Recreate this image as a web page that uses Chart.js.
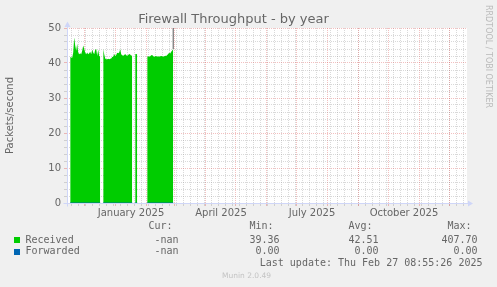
<!DOCTYPE html>
<html>
<head>
<meta charset="utf-8">
<title>Firewall Throughput - by year</title>
<script src="https://cdn.jsdelivr.net/npm/chart.js@4.4.1/dist/chart.umd.min.js"></script>
<style>
  body { margin: 0; background: #f0f0f0; }
  #wrap { position: relative; width: 497px; height: 287px; overflow: hidden; background: #f0f0f0; }
  #myChart { position: absolute; left: 0; top: 0; }
  .txt { position: absolute; white-space: pre; color: #666; font: 10px/12px "DejaVu Sans Mono", monospace; }
  .sw { position: absolute; left: 14px; width: 6px; height: 6px; }
  #rrd { position: absolute; left: 492.5px; top: 4.5px; transform-origin: 0 0; transform: rotate(90deg);
         font: 8px/10px "DejaVu Sans", sans-serif; color: #bbb; white-space: pre; }
  #munin { position: absolute; left: 222px; top: 271px; font: 7.5px/10px "DejaVu Sans", sans-serif; color: #c4c4c4; white-space: pre; }
</style>
</head>
<body>
<div id="wrap">
  <canvas id="myChart" width="497" height="287"></canvas>
  <div id="rrd">RRDTOOL / TOBI OETIKER</div>
  <div id="munin">Munin 2.0.49</div>
</div>
<script>
// daily samples, first one is 2024-11-16
var firstSample = Date.UTC(2024, 10, 16);
var received = [
  41.8, 41.6, 41.5, 43.0, 47.3, 45.0, 43.5, 45.5, 43.0, 42.5,
  42.8, 42.5, 43.5, 45.0, 44.0, 43.0, 42.5, 43.0, 42.5, 42.8,
  43.2, 42.5, 43.8, 43.0, 42.5, 43.8, 44.0, 42.0, 43.8, 42.0,
  41.8, null, null,
  44.0, 42.5, 41.3, 41.1, 41.1, 41.2, 41.1, 41.2, 41.3, 41.7,
  41.8, 42.6, 42.0, 42.3, 42.9, 42.8, 43.0, 43.9, 42.5, 42.2,
  42.1, 42.3, 42.6, 42.2, 42.1, 42.3, 42.6, 42.4, 42.1, 42.2,
  null, null,
  42.6, 42.6, 42.5,
  null, null, null, null, null, null, null, null, null,
  41.8, 41.9, 41.8, 41.9, 42.2, 42.3, 41.9, 41.8, 41.9, 42.0,
  41.8, 41.9, 41.8, 41.9, 42.0, 41.9, 41.8, 41.9, 42.1, 42.0,
  42.3, 42.6, 42.9, 42.7, 43.2, 43.6, 44.0
];
var forwarded = [
  0, 0, 0, 0, 0, 0, 0, 0, 0, 0,
  0, 0, 0, 0, 0, 0, 0, 0, 0, 0,
  0, 0, 0, 0, 0, 0, 0, 0, 0, 0,
  0, null, null,
  0, 0, 0, 0, 0, 0, 0, 0, 0, 0,
  0, 0, 0, 0, 0, 0, 0, 0, 0, 0,
  0, 0, 0, 0, 0, 0, 0, 0, 0, 0,
  null, null,
  0, 0, 0,
  null, null, null, null, null, null, null, null, null,
  0, 0, 0, 0, 0, 0, 0, 0, 0, 0,
  0, 0, 0, 0, 0, 0, 0, 0, 0, 0,
  0, 0, 0, 0, 0, 0, 0
];

var seriesNames = ['Received', 'Forwarded'];
var seriesColors = ['#00cc00', '#0066b3'];
var curValues = ['-nan', '-nan'];
var minValues = ['39.36', '0.00'];
var avgValues = ['42.51', '0.00'];
var maxValues = ['407.70', '0.00'];
var lastUpdate = 'Last update: Thu Feb 27 08:55:26 2025';

var tickLabels = ['January 2025', 'April 2025', 'July 2025', 'October 2025'];
var labelMonths = [[2025, 0], [2025, 3], [2025, 6], [2025, 9]];
var yTickLabels = [0, 10, 20, 30, 40, 50];

var GRID = 'rgba(143,143,143,0.34)';
var MGRID = 'rgba(222,79,79,0.36)';
var AXIS = '#cfd6f8';

// x axis in days from 2025-01-01, window of 400 days
var DAY = 86400000;
var jan1 = Date.UTC(2025, 0, 1);
var windowStart = -48.7;
var windowDays = 400;
function dayOf(y, m, d) { return (Date.UTC(y, m, d) - jan1) / DAY; }
var firstDay = (firstSample - jan1) / DAY;

var recPoints = received.map(function (v, i) { return {x: firstDay + i + 0.5, y: v}; });
var fwdPoints = forwarded.map(function (v, i) { return {x: firstDay + i + 0.5, y: v}; });
var lastIdx = received.length - 1;
var spikePoints = [
  {x: firstDay + lastIdx + 0.5, y: received[lastIdx]},
  {x: firstDay + lastIdx + 0.5, y: parseFloat(maxValues[0])}
];

var xTicks = [];
for (var d = dayOf(2024, 10, 18); d < windowStart + windowDays; d += 7) {
  xTicks.push({value: d, kind: 'minor', text: ''});
}
labelMonths.forEach(function (m, i) {
  xTicks.push({value: dayOf(m[0], m[1], 1) + 15.3, kind: 'label', text: tickLabels[i]});
});
for (var k = 0; k < 14; k++) {
  var md = dayOf(2024, 11 + k, 1);
  if (md > windowStart && md < windowStart + windowDays) xTicks.push({value: md, kind: 'major', text: ''});
}
var yTicks = [];
for (var v = 0; v <= 50; v += 2) yTicks.push(v);

var canvasBg = {
  id: 'canvasBg',
  beforeDraw: function (chart) {
    var a = chart.chartArea, c = chart.ctx;
    c.save();
    c.fillStyle = '#ffffff';
    c.fillRect(a.left, a.top, a.right - a.left, a.bottom - a.top);
    c.restore();
  }
};

var axisArrows = {
  id: 'axisArrows',
  afterDatasetsDraw: function (chart) {
    var a = chart.chartArea, c = chart.ctx;
    var x0 = Math.round(a.left) + 0.5, y0 = Math.round(a.bottom) + 0.5;
    c.save();
    c.strokeStyle = AXIS; c.fillStyle = AXIS; c.lineWidth = 1;
    c.beginPath();
    c.moveTo(x0 - 4, y0); c.lineTo(a.right + 2, y0);
    c.moveTo(x0, y0 + 3); c.lineTo(x0, a.top - 2);
    c.stroke();
    c.beginPath();
    c.moveTo(a.right + 1, y0 - 3); c.lineTo(a.right + 6, y0); c.lineTo(a.right + 1, y0 + 3);
    c.closePath(); c.fill();
    c.beginPath();
    c.moveTo(x0 - 3, a.top - 1); c.lineTo(x0, a.top - 6.5); c.lineTo(x0 + 3, a.top - 1);
    c.closePath(); c.fill();
    c.restore();
  }
};

const config = {
  type: 'line',
  data: {
    datasets: [
      {
        label: seriesNames[0],
        data: recPoints,
        backgroundColor: seriesColors[0],
        borderColor: 'rgba(0,0,0,0)',
        borderWidth: 1,
        fill: 'origin',
        pointRadius: 0,
        tension: 0,
        order: 2
      },
      {
        label: seriesNames[1],
        data: fwdPoints,
        borderColor: seriesColors[1],
        borderWidth: 1,
        fill: false,
        pointRadius: 0,
        order: 1
      },
      {
        label: 'spike',
        data: spikePoints,
        borderColor: '#555555',
        borderWidth: 1,
        fill: false,
        pointRadius: 0,
        order: 3
      }
    ]
  },
  options: {
    responsive: false,
    animation: false,
    devicePixelRatio: 1,
    layout: { padding: { left: 0, right: 30, top: 0, bottom: 64 } },
    plugins: {
      legend: { display: false },
      tooltip: { enabled: false },
      title: {
        display: true,
        text: 'Firewall Throughput - by year',
        color: '#666',
        font: { family: 'DejaVu Sans', size: 13, weight: 'normal' },
        padding: { top: 11.7, bottom: 0.7 }
      }
    },
    scales: {
      x: {
        type: 'linear',
        min: windowStart,
        max: windowStart + windowDays,
        afterBuildTicks: function (s) {
          s.ticks = xTicks.map(function (t) { return {value: t.value, kind: t.kind, text: t.text}; });
        },
        afterFit: function (s) { s.height = 20; },
        ticks: {
          autoSkip: false, maxRotation: 0, minRotation: 0, padding: 1,
          color: '#666', font: { family: 'DejaVu Sans', size: 10 },
          callback: function (value, index, ticks) { return ticks[index].text; }
        },
        grid: {
          color: function (ctx) {
            var t = ctx.tick;
            if (!t) return GRID;
            if (t.kind === 'major') return MGRID;
            if (t.kind === 'label') return 'rgba(0,0,0,0)';
            return GRID;
          },
          lineWidth: 1,
          tickLength: 3
        },
        border: { display: false, dash: [1, 1] }
      },
      y: {
        min: 0,
        max: 50,
        afterBuildTicks: function (s) {
          s.ticks = yTicks.map(function (v) { return {value: v}; });
        },
        afterFit: function (s) { s.width = 67; },
        ticks: {
          autoSkip: false, padding: 3,
          color: '#666', font: { family: 'DejaVu Sans', size: 10 },
          callback: function (value) { return yTickLabels.indexOf(value) >= 0 ? String(value) : ''; }
        },
        grid: {
          color: function (ctx) {
            return ctx.tick && ctx.tick.value % 10 === 0 ? MGRID : GRID;
          },
          lineWidth: 1,
          tickLength: 3
        },
        border: { display: false, dash: [1, 1] },
        title: {
          display: true,
          text: 'Packets/second',
          color: '#666',
          font: { family: 'DejaVu Sans', size: 10 },
          padding: { top: 4.5, bottom: 0 }
        }
      }
    }
  },
  plugins: [canvasBg, axisArrows]
};

var ctx = document.getElementById('myChart').getContext('2d');
var myChart = new Chart(ctx, config);

// legend table under the graph
var wrap = document.getElementById('wrap');
function addText(text, top, left, right) {
  var el = document.createElement('div');
  el.className = 'txt';
  el.textContent = text;
  el.style.top = top + 'px';
  if (left != null) el.style.left = left + 'px';
  if (right != null) { el.style.right = (497 - right) + 'px'; el.style.textAlign = 'right'; }
  wrap.appendChild(el);
}
var colEnds = [178.5, 279.5, 378.5, 477.5];
var headers = ['Cur:', 'Min:', 'Avg:', 'Max:'];
var rowTops = [233.7, 245.3];
headers.forEach(function (h, i) { addText(h + ' ', 219.8, null, colEnds[i]); });
seriesNames.forEach(function (name, i) {
  var sw = document.createElement('div');
  sw.className = 'sw';
  sw.style.top = (rowTops[i] + 3.2) + 'px';
  sw.style.background = seriesColors[i];
  wrap.appendChild(sw);
  addText(name, rowTops[i], 25.5, null);
  addText(curValues[i], rowTops[i], null, colEnds[0]);
  addText(minValues[i], rowTops[i], null, colEnds[1]);
  addText(avgValues[i], rowTops[i], null, colEnds[2]);
  addText(maxValues[i], rowTops[i], null, colEnds[3]);
});
addText(lastUpdate, 257.3, null, 482.5);
</script>
</body>
</html>
